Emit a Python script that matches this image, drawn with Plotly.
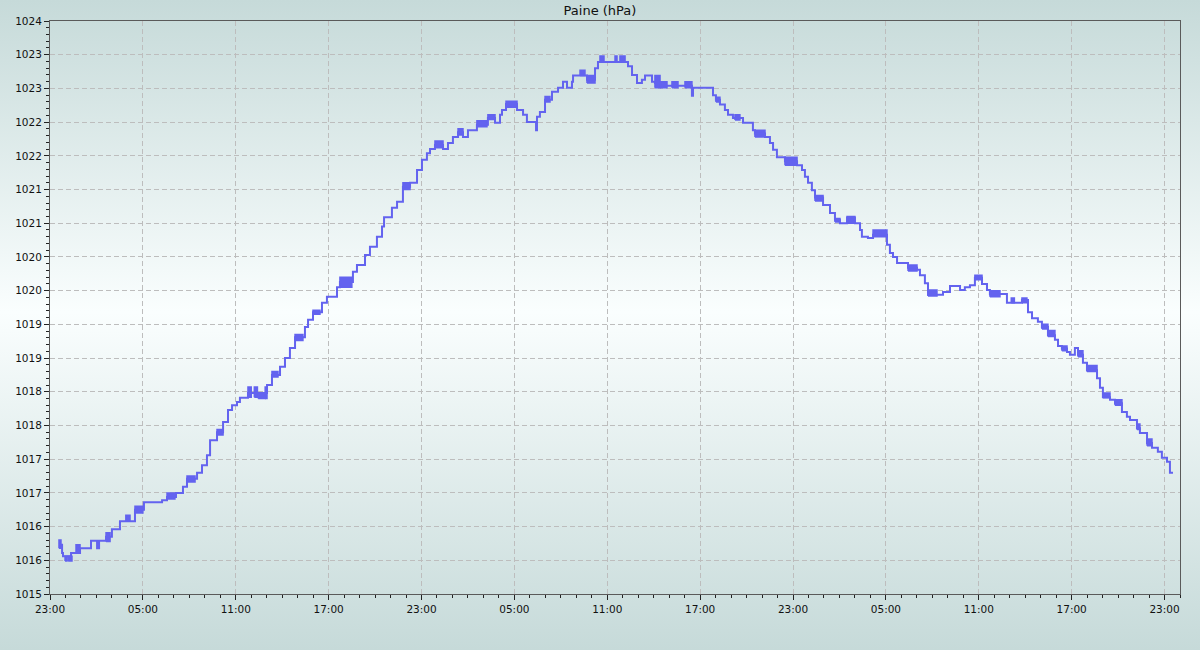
import base64
import pandas as pd
import plotly.graph_objects as go

# ---- data (hours since 23:00 of day 0, hPa) ----
hours = [0.58, 0.78, 0.84, 1.36, 1.94, 2.65, 3.04, 3.17, 3.62, 4.00, 4.52, 5.49, 6.07, 7.24,
         7.56, 8.14, 8.59, 8.85, 9.50, 9.82, 10.14, 10.34, 10.79, 11.18, 11.50, 11.76, 12.08,
         12.27, 12.79, 14.02, 14.34, 14.86, 15.18, 15.50, 15.83, 16.47, 16.67, 16.99, 17.57,
         17.89, 18.54, 18.73, 19.57, 19.83, 20.35, 20.67, 21.12, 21.45, 21.58, 22.09, 22.42,
         22.80, 23.26, 23.71, 24.03, 24.35, 24.55, 24.87, 25.39, 25.71, 26.03, 26.36, 26.68,
         27.00, 27.58, 28.29, 28.75, 29.07, 29.20, 29.46, 30.17, 30.56, 30.81, 31.40, 31.46,
         31.65, 31.98, 32.43, 32.82, 33.14, 33.40, 33.72, 33.79, 34.69, 35.21, 35.40, 37.34,
         37.60, 37.92, 38.24, 38.44, 38.89, 39.08, 39.41, 41.47, 41.54, 42.83, 43.02, 43.28,
         43.60, 43.80, 44.12, 44.77, 45.41, 45.54, 46.19, 46.51, 46.71, 46.96, 47.48, 48.26,
         48.58, 48.77, 48.97, 49.22, 49.42, 49.94, 50.39, 50.71, 51.03, 51.49, 52.00, 52.33,
         52.45, 52.84, 53.17, 54.07, 54.26, 54.46, 54.72, 55.43, 56.01, 56.20, 56.52, 56.72,
         57.69, 58.14, 58.79, 59.10, 59.43, 59.75, 60.21, 60.53, 60.72, 61.82, 62.79, 63.18,
         63.44, 63.82, 64.08, 64.47, 64.92, 65.12, 65.37, 65.70, 65.89, 66.21, 66.41, 66.73,
         66.99, 67.64, 67.83, 68.02, 68.48, 68.80, 69.25, 69.57, 69.77, 70.22, 70.41, 70.87,
         71.19, 71.57, 71.83, 72.16, 72.35, 72.55]
pressure = [1015.73, 1015.61, 1015.56, 1015.61, 1015.68, 1015.79, 1015.68, 1015.79, 1015.85,
            1015.96, 1016.08, 1016.25, 1016.36, 1016.39, 1016.44, 1016.50, 1016.59, 1016.71,
            1016.80, 1016.91, 1017.06, 1017.28, 1017.40, 1017.55, 1017.73, 1017.80, 1017.85,
            1017.91, 1017.98, 1018.10, 1018.25, 1018.37, 1018.50, 1018.65, 1018.81, 1018.96,
            1019.07, 1019.18, 1019.32, 1019.41, 1019.55, 1019.63, 1019.78, 1019.88, 1020.03,
            1020.15, 1020.30, 1020.45, 1020.59, 1020.73, 1020.82, 1021.04, 1021.10, 1021.29,
            1021.44, 1021.54, 1021.60, 1021.66, 1021.60, 1021.69, 1021.78, 1021.85, 1021.78,
            1021.88, 1021.96, 1022.06, 1021.99, 1022.11, 1022.18, 1022.27, 1022.18, 1022.11,
            1022.00, 1021.88, 1022.08, 1022.15, 1022.33, 1022.45, 1022.51, 1022.60, 1022.51,
            1022.60, 1022.69, 1022.63, 1022.80, 1022.89, 1022.83, 1022.70, 1022.58, 1022.63,
            1022.69, 1022.60, 1022.58, 1022.54, 1022.39, 1022.51, 1022.40, 1022.33, 1022.26,
            1022.18, 1022.11, 1022.06, 1021.99, 1021.88, 1021.83, 1021.78, 1021.69, 1021.59,
            1021.48, 1021.42, 1021.36, 1021.29, 1021.19, 1021.10, 1020.99, 1020.88, 1020.77,
            1020.65, 1020.55, 1020.50, 1020.58, 1020.50, 1020.40, 1020.30, 1020.28, 1020.33,
            1020.18, 1020.06, 1020.00, 1019.91, 1019.84, 1019.81, 1019.73, 1019.61, 1019.44,
            1019.48, 1019.57, 1019.51, 1019.55, 1019.58, 1019.69, 1019.60, 1019.51, 1019.45,
            1019.32, 1019.36, 1019.18, 1019.09, 1019.04, 1018.96, 1018.84, 1018.77, 1018.68,
            1018.64, 1018.59, 1018.55, 1018.65, 1018.55, 1018.43, 1018.32, 1018.20, 1018.06,
            1017.92, 1017.88, 1017.83, 1017.70, 1017.63, 1017.58, 1017.46, 1017.39, 1017.24,
            1017.17, 1017.11, 1017.02, 1016.96, 1016.80, 1016.80]

# sensor flicker bands: start hour, end hour, low hPa, high hPa
flicker_start = [0.58, 0.97, 1.17, 1.68, 3.62, 4.90, 5.49, 7.56, 8.85, 10.79, 12.79, 13.20,
                 13.45, 13.90, 14.34, 15.83, 16.99, 18.73, 22.80, 24.87, 26.36, 27.58, 28.29,
                 29.46, 31.98, 34.24, 34.69, 35.53, 36.50, 36.82, 39.08, 39.41, 40.18, 41.02,
                 43.02, 44.25, 45.54, 47.48, 49.42, 50.71, 51.49, 53.17, 55.43, 56.72, 59.75,
                 60.72, 62.10, 62.79, 64.08, 64.47, 65.37, 66.41, 66.99, 68.02, 68.80, 70.22,
                 70.87]
flicker_end = [0.71, 1.10, 1.42, 1.94, 3.88, 5.17, 6.00, 8.07, 9.37, 11.18, 13.00, 13.40,
               13.90, 14.02, 14.73, 16.34, 17.44, 19.50, 23.26, 25.39, 26.68, 28.23, 28.75,
               30.17, 32.30, 34.56, 35.21, 35.79, 36.63, 37.15, 39.41, 39.86, 40.57, 41.47,
               43.28, 44.57, 46.19, 48.26, 49.94, 51.03, 52.00, 54.07, 56.01, 57.30, 60.21,
               61.37, 62.30, 63.11, 64.47, 64.92, 65.70, 66.73, 67.64, 68.48, 69.25, 70.41,
               71.19]
flicker_low = [1015.68, 1015.49, 1015.49, 1015.61, 1015.78, 1016.08, 1016.20, 1016.41,
               1016.66, 1017.36, 1017.92, 1017.92, 1017.90, 1017.90, 1018.22, 1018.76,
               1019.15, 1019.55, 1021.00, 1021.62, 1021.81, 1021.93, 1022.04, 1022.22,
               1022.30, 1022.69, 1022.58, 1022.89, 1022.89, 1022.89, 1022.51, 1022.51,
               1022.51, 1022.51, 1022.30, 1022.03, 1021.78, 1021.36, 1020.83, 1020.52,
               1020.50, 1020.30, 1019.79, 1019.42, 1019.66, 1019.41, 1019.32, 1019.32,
               1018.93, 1018.82, 1018.61, 1018.52, 1018.30, 1017.91, 1017.80, 1017.44,
               1017.20]
flicker_high = [1015.80, 1015.56, 1015.56, 1015.73, 1015.91, 1016.17, 1016.30, 1016.50,
                1016.75, 1017.44, 1018.07, 1018.07, 1017.98, 1018.07, 1018.30, 1018.85,
                1019.21, 1019.70, 1021.10, 1021.72, 1021.90, 1022.02, 1022.11, 1022.31,
                1022.38, 1022.77, 1022.69, 1022.98, 1022.98, 1022.98, 1022.69, 1022.60,
                1022.60, 1022.60, 1022.37, 1022.11, 1021.88, 1021.48, 1020.91, 1020.57,
                1020.60, 1020.40, 1019.88, 1019.51, 1019.73, 1019.50, 1019.39, 1019.39,
                1019.00, 1018.91, 1018.68, 1018.61, 1018.39, 1017.98, 1017.88, 1017.52,
                1017.30]

y_ticks = [1015 + 0.5 * i for i in range(18)]
y_tick_text = [str(int(v + 0.5)) for v in y_ticks]

title = "Paine (hPa)"
LINE = "#6363ef"

base = pd.Timestamp("2024-01-01 23:00")


def to_time(h):
    return base + pd.to_timedelta(h, unit="h")


x = [to_time(h) for h in hours]

fx, fy = [], []
for s, e, lo, hi in zip(flicker_start, flicker_end, flicker_low, flicker_high):
    fx += [to_time(s), to_time(e), to_time(e), to_time(s), to_time(s), None]
    fy += [lo, lo, hi, hi, lo, None]

fig = go.Figure()
fig.add_trace(go.Scatter(x=fx, y=fy, mode="lines", fill="toself", fillcolor=LINE,
                         line=dict(color=LINE, width=1.5), hoverinfo="skip",
                         showlegend=False))
fig.add_trace(go.Scatter(x=x, y=pressure, mode="lines", line=dict(color=LINE, width=2,
                         shape="hv"), showlegend=False))

svg = ("<svg xmlns='http://www.w3.org/2000/svg' width='10' height='650' "
       "preserveAspectRatio='none'><defs><linearGradient id='g' x1='0' y1='0' x2='0' y2='1'>"
       "<stop offset='0' stop-color='#c6dad9'/><stop offset='0.48' stop-color='#fafefe'/>"
       "<stop offset='1' stop-color='#c6dad9'/></linearGradient></defs>"
       "<rect width='10' height='650' fill='url(#g)'/></svg>")
uri = "data:image/svg+xml;base64," + base64.b64encode(svg.encode()).decode()

W, H = 1200, 650
ml, mr, mt, mb = 50, 20, 21, 56
pw, ph = W - ml - mr, H - mt - mb

axis_common = dict(
    showline=True, linecolor="#5a5a5a", linewidth=1, mirror=True,
    ticks="outside", ticklen=5, tickcolor="#222", tickwidth=1,
    showgrid=True, gridcolor="#bdbdbd", gridwidth=1, griddash="5px,3px",
    zeroline=False, tickfont=dict(family="DejaVu Sans", size=10.5, color="#111"),
)

fig.update_layout(
    width=W, height=H,
    margin=dict(l=ml, r=mr, t=mt, b=mb),
    paper_bgcolor="#e2eeec", plot_bgcolor="rgba(0,0,0,0)",
    title=dict(text=title, x=0.5, xref="container", y=1 - 10 / H, yref="container",
               xanchor="center", yanchor="middle",
               font=dict(family="DejaVu Sans", size=13, color="#111")),
    images=[dict(source=uri, xref="paper", yref="paper", x=-ml / pw, y=1 + mt / ph,
                 sizex=W / pw, sizey=H / ph, xanchor="left", yanchor="top",
                 sizing="stretch", layer="below")],
    xaxis=dict(axis_common, type="date", range=[to_time(0), to_time(73)],
               dtick=6 * 3600000, tick0=to_time(0), tickformat="%H:%M",
               minor=dict(dtick=3600000, tick0=to_time(0), ticks="outside", ticklen=3,
                          tickcolor="#222", showgrid=False)),
    yaxis=dict(axis_common, range=[1015, 1023.5], tickvals=y_ticks, ticktext=y_tick_text,
               minor=dict(dtick=0.1, tick0=1015, ticks="outside", ticklen=3,
                          tickcolor="#222", showgrid=False)),
)

fig.write_html("out.html", config={"displayModeBar": False},
               post_script="document.body.style.margin='0';document.body.style.overflow='hidden';")
